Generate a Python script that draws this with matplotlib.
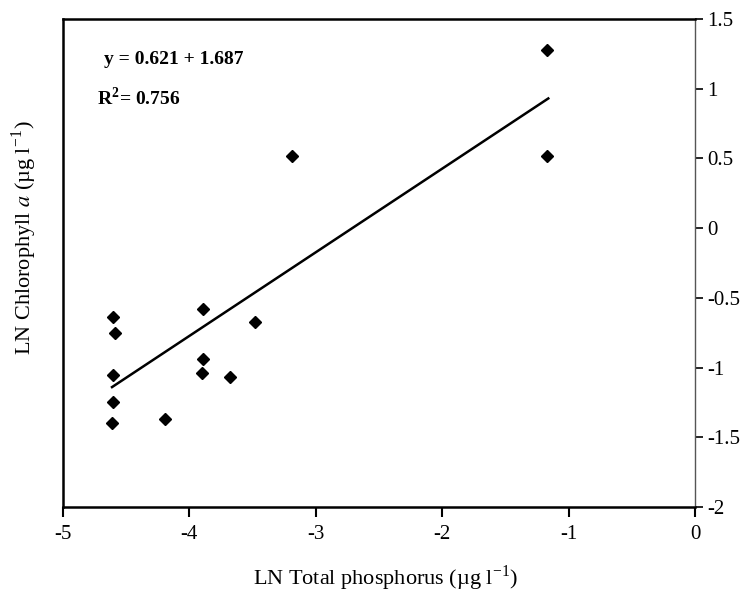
import matplotlib.pyplot as plt

plt.rcParams['font.family'] = ['Liberation Serif', 'DejaVu Serif']
plt.rcParams['mathtext.fontset'] = 'stix'

# values
tp = [-4.60, -4.59, -4.60, -4.60, -4.61, -4.19, -3.89, -3.89, -3.90,
      -3.68, -3.48, -3.19, -1.17, -1.17]
chl = [-0.64, -0.75, -1.05, -1.25, -1.40, -1.37, -0.58, -0.94, -1.04,
       -1.07, -0.67, 0.52, 1.28, 0.52]

fit_x = [-4.61, -1.16]
fit_y = [-1.14, 0.93]

x_ticks = [-5, -4, -3, -2, -1, 0]
y_ticks = [-2, -1.5, -1, -0.5, 0, 0.5, 1, 1.5]

fig = plt.figure(figsize=(7.51, 5.93), dpi=100)
ax = fig.add_axes([0.0835, 0.145, 0.8419, 0.823])

ax.plot(tp, chl, linestyle='none', marker='D', markersize=6.5, color='black')
ax.plot(fit_x, fit_y, color='black', linewidth=1.8)

ax.set_xlim(-5, 0)
ax.set_ylim(-2, 1.5)
ax.set_xticks(x_ticks)
ax.set_xticklabels([str(v) for v in x_ticks])
ax.set_yticks(y_ticks)
ax.set_yticklabels([('%g' % v) for v in y_ticks])

ax.yaxis.tick_right()
ax.tick_params(axis='x', direction='out', length=7, width=1.5, labelsize=15, pad=6)
ax.tick_params(axis='y', direction='out', length=6, width=1.2, labelsize=15, pad=3)

for side in ['left', 'top', 'bottom']:
    ax.spines[side].set_linewidth(1.8)
    ax.spines[side].set_color('black')
ax.spines['right'].set_linewidth(1.0)
ax.spines['right'].set_color('#555555')

ax.text(-4.67, 1.206, 'y = 0.621 + 1.687', fontsize=14, fontweight='semibold',
        va='center', ha='left')
ax.text(-4.73, 0.933, r'R$^{\mathregular{2}}$= 0.756', fontsize=14,
        fontweight='semibold', va='center', ha='left')

fig.text(0.513, 1 - 578 / 593,
         'LN Total phosphorus (\u00b5g l$^{\\mathregular{-1}}$)',
         fontsize=16, ha='center', va='center')
fig.text(24 / 751, 1 - 238 / 593,
         'LN Chlorophyll $a$ (\u00b5g l$^{\\mathregular{-1}}$)',
         fontsize=16, ha='center', va='center', rotation=90)

fig.savefig('out.png', dpi=100)
